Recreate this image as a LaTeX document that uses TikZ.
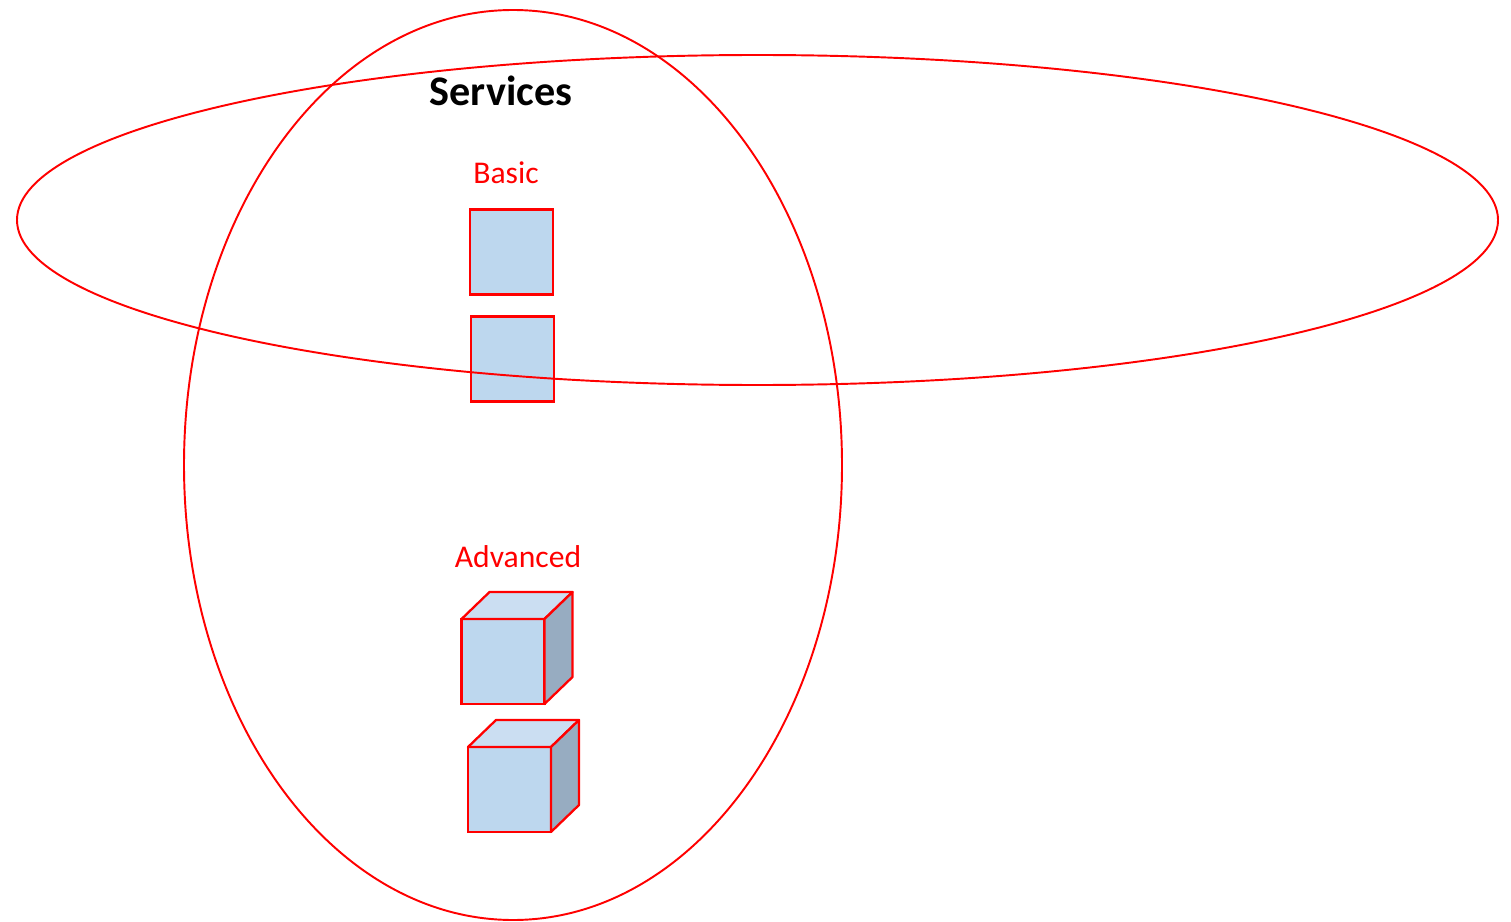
\documentclass[tikz,border=0pt]{standalone}
\usepackage{fontspec}
\setmainfont{Carlito}
\usepackage{tikz}

\definecolor{boxblue}{HTML}{BDD7EE}
\definecolor{topblue}{HTML}{CBDEF2}
\definecolor{sideblue}{HTML}{97ACC1}

\begin{document}
\begin{tikzpicture}[x=0.02cm,y=-0.02cm,
    box/.style={draw=red,fill=boxblue,line width=1.3pt,minimum width=1.66cm,minimum height=1.7cm,inner sep=0pt,outer sep=0pt},
    face/.style={draw=red,line width=1.3pt,line join=round},
    ring/.style={draw=red,line width=1.1pt},
    label/.style={text=red,font=\fontsize{18}{21}\selectfont}]

  \useasboundingbox (0,0) rectangle (1511,922);

  % basic services: flat boxes
  \node[box] (b1) at (511.5,252) {};
  \node[box] (b2) at (512.5,359) {};

  % advanced services: cubes
  \node[box] (c1) at (503,661.5) {};
  \node[box] (c2) at (509.5,789.5) {};
  \foreach \c in {c1,c2} {
    \filldraw[face,fill=topblue] (\c.north east) -- (\c.north west) -- ++(28,-27)
      -- ([shift={(28,-27)}]\c.north east) -- cycle;
    \filldraw[face,fill=sideblue] (\c.north east) -- ([shift={(28,-27)}]\c.north east)
      -- ([shift={(28,-27)}]\c.south east) -- (\c.south east) -- cycle;
  }

  % the two groupings
  \draw[ring] (513,465) ellipse [x radius=329,y radius=455];
  \draw[ring] (757.5,220) ellipse [x radius=740.5,y radius=165];

  \node[font=\fontsize{24}{28}\selectfont\bfseries] (title) at (501,91) {Services};
  \node[label] (basic) at (506,173) {Basic};
  \node[label] (adv) at (518,557) {Advanced};

\end{tikzpicture}
\end{document}
